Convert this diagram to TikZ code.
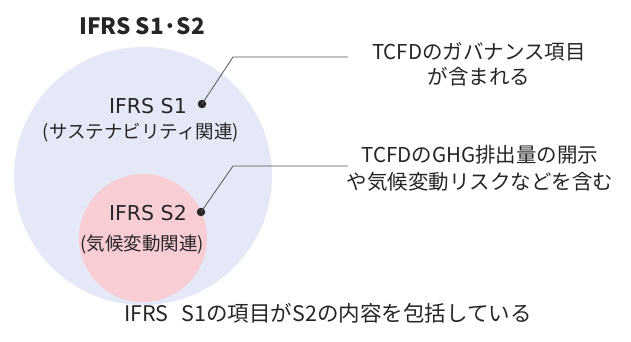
\documentclass[tikz,border=0pt]{standalone}
\usepackage{fontspec}
\setmainfont{Noto Sans CJK JP}
\newfontfamily\lat{DejaVu Sans}
\definecolor{bigc}{HTML}{E5E9F7}
\definecolor{smallc}{HTML}{F8CDD4}
\definecolor{txt}{HTML}{262626}
\definecolor{ln}{HTML}{555555}
\begin{document}
\begin{tikzpicture}[x=1pt,y=-1pt,
  lbl/.style={font=\fontsize{18.5}{22}\selectfont, text=txt, inner sep=0pt, align=center},
  rlbl/.style={font=\fontsize{20.5}{24}\selectfont, text=txt, inner sep=0pt, align=center},
  dotc/.style={circle, fill=txt, inner sep=0pt, minimum size=8.5pt},
  lead/.style={draw=ln, line width=0.8pt}]
\useasboundingbox (0,0) rectangle (631,342);
\fill[white] (0,0) rectangle (631,342);
\fill[bigc] (143,176) circle (129);
\fill[smallc] (143,238) circle (64);
\node[lbl, font=\fontsize{22.5}{25}\selectfont\bfseries] (title) at (142,26) {IFRS S1·S2};
\node[lbl, anchor=east, font=\fontsize{20.5}{24}\selectfont\lat] (s1) at (187,106) {IFRS S1};
\node[lbl] (s1j) at (141,133) {(サステナビリティ関連)};
\node[lbl, anchor=east, font=\fontsize{20.5}{24}\selectfont\lat] (s2) at (187,213) {IFRS S2};
\node[lbl] (s2j) at (142,245) {(気候変動関連)};
\node[dotc] (d1) at (202,104) {};
\node[dotc] (d2) at (201,212) {};
\coordinate (c1) at (233,57);
\coordinate (e1) at (348,57);
\coordinate (c2) at (233,166);
\coordinate (e2) at (348,166);
\draw[lead] (d1.center) -- (c1) -- (e1);
\draw[lead] (d2.center) -- (c2) -- (e2);
\node[rlbl] (t1) at (479,52) {TCFDのガバナンス項目};
\node[rlbl] (t1b) at (479,77) {が含まれる};
\node[rlbl] (t2) at (480,155) {TCFDのGHG排出量の開示};
\node[rlbl] (t2b) at (480,182) {や気候変動リスクなどを含む};
\node[lbl, font=\fontsize{21.5}{24}\selectfont] (bot) at (328,313) {IFRS\hspace{0.6em}S1の項目がS2の内容を包括している};
\end{tikzpicture}
\end{document}
